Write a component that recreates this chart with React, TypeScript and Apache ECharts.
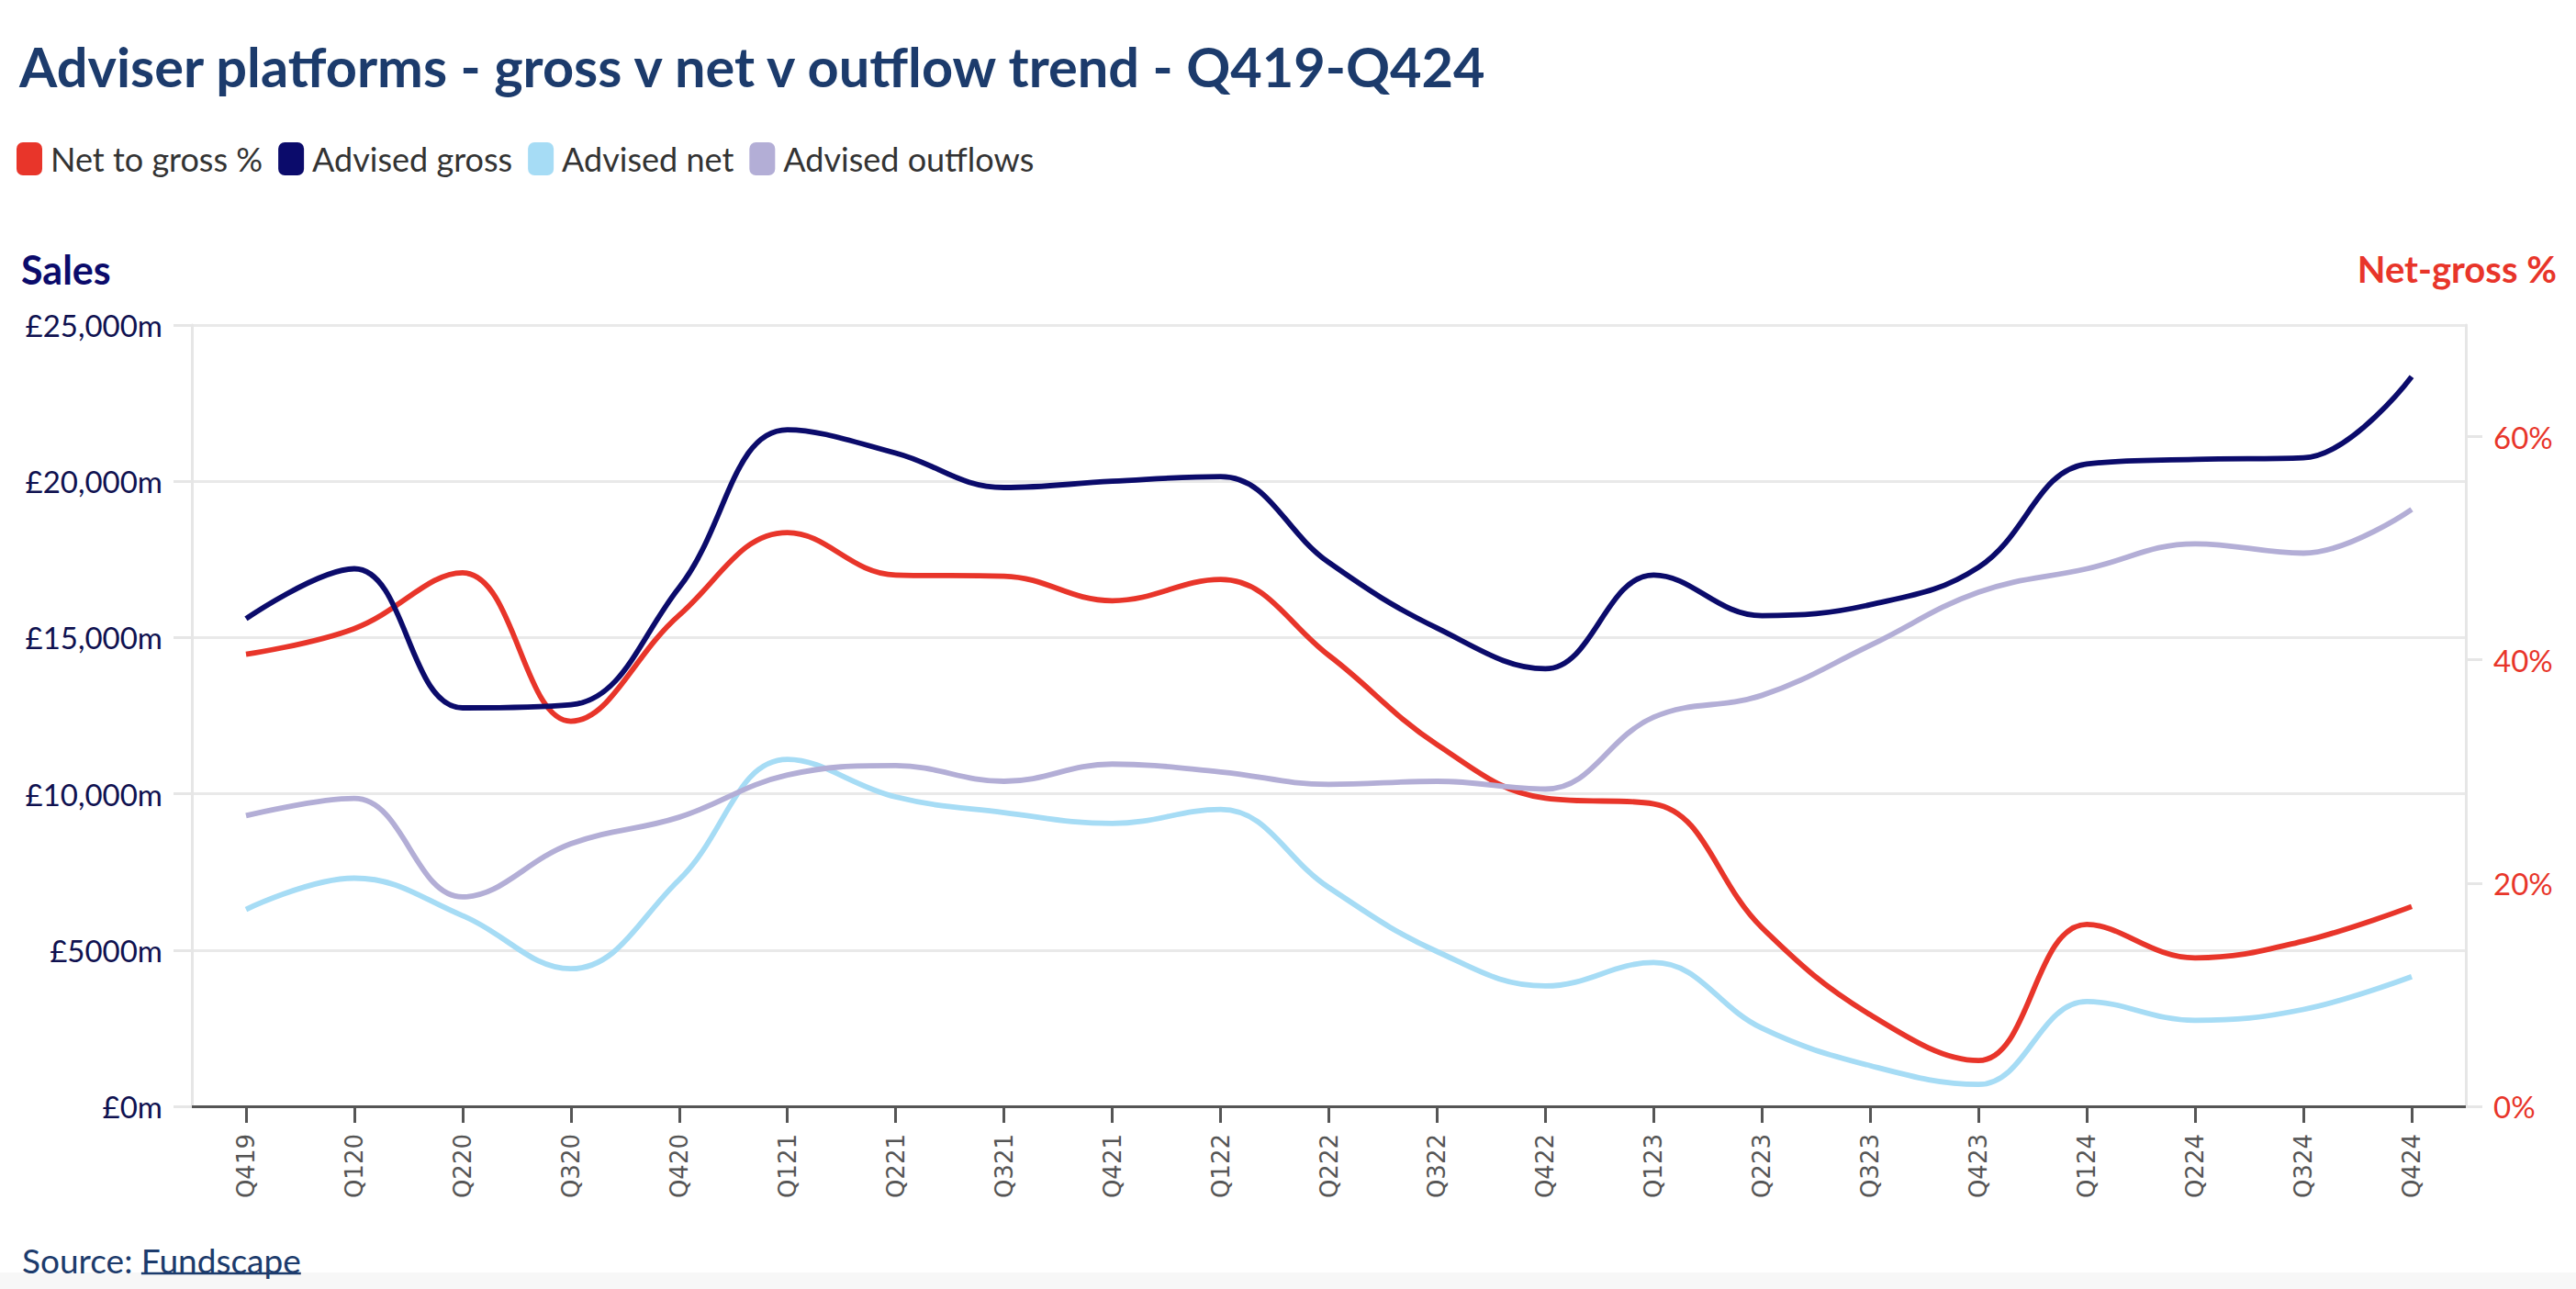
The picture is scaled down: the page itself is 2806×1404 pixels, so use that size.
import React, { useEffect, useRef } from "react";
import * as echarts from "echarts";

const categories = ["Q419","Q120","Q220","Q320","Q420","Q121","Q221","Q321","Q421","Q122","Q222","Q322","Q422","Q123","Q223","Q323","Q423","Q124","Q224","Q324","Q424"];
const netToGross = [40.5,42.8,47.8,34.5,44.0,51.4,47.6,47.5,45.3,47.2,40.4,32.4,27.6,27.1,16.0,8.2,4.1,16.3,13.3,14.8,17.9];
const advisedGross = [15600,17200,12750,12850,16600,21650,20900,19800,20000,20150,17400,15300,14000,17000,15700,16050,17250,20550,20700,20750,23350];
const advisedNet = [6300,7300,6100,4400,7250,11100,9900,9400,9050,9500,7000,4950,3850,4600,2500,1300,700,3350,2750,3100,4150];
const advisedOutflows = [9300,9850,6700,8400,9250,10600,10900,10400,10950,10700,10300,10400,10150,12450,13150,14750,16450,17200,18000,17700,19100];
const salesTicks = [0, 5000, 10000, 15000, 20000, 25000];
const pctTicks = [0, 20, 40, 60];

const titleText = "Adviser platforms - gross v net v outflow trend - Q419-Q424";
const sourceLabel = "Source: ";
const sourceLink = "Fundscape";

const RED = "#e8352a";
const NAVY = "#0b0b6b";
const LIGHTBLUE = "#a6dcf5";
const LAVENDER = "#b3aed6";
const TITLE = "#1c3b6c";
const FONT = "Lato, 'Noto Sans', sans-serif";

function fmtSales(v: number) {
  if (v >= 10000) return "£" + v.toLocaleString("en-GB") + "m";
  return "£" + v + "m";
}

export default function App() {
  const ref = useRef<HTMLDivElement>(null);
  useEffect(() => {
    document.body.style.margin = "0";
    document.body.style.overflow = "hidden";
    const el = ref.current!;
    const chart = echarts.init(el, undefined, { renderer: "svg" });

    const srcSize = 37;
    const ctx = document.createElement("canvas").getContext("2d")!;
    ctx.font = `${srcSize}px Lato`;
    const srcW = ctx.measureText(sourceLabel).width;
    const linkW = ctx.measureText(sourceLink).width;
    const srcX = 24;
    const srcY = 1372;

    const lineSeries = (name: string, data: number[], color: string, yAxisIndex: number) => ({
      name,
      type: "line",
      data,
      yAxisIndex,
      smooth: 0.4,
      symbol: "none",
      showSymbol: false,
      lineStyle: { color, width: 5.8 },
      itemStyle: { color },
    });

    chart.setOption({
      animation: false,
      backgroundColor: "#ffffff",
      legend: {
        left: 13,
        top: 150,
        icon: "roundRect",
        itemWidth: 28,
        itemHeight: 36,
        itemGap: 17,
        textStyle: { fontFamily: FONT, fontSize: 36, color: "#333333", padding: [0, 0, 0, 4] },
        data: ["Net to gross %", "Advised gross", "Advised net", "Advised outflows"],
      },
      grid: { left: 209, right: 120, top: 354, bottom: 199, containLabel: false },
      xAxis: {
        type: "category",
        data: categories,
        boundaryGap: true,
        axisLine: { show: true, lineStyle: { color: "#555555", width: 3 } },
        axisTick: { show: true, alignWithLabel: true, length: 18, lineStyle: { color: "#555555", width: 3 } },
        axisLabel: {
          rotate: 90,
          margin: 30,
          interval: 0,
          fontFamily: "'DejaVu Sans', sans-serif",
          fontSize: 26,
          color: "#555555",
        },
        splitLine: { show: false },
      },
      yAxis: [
        {
          type: "value",
          min: 0,
          max: 25000,
          interval: 5000,
          position: "left",
          axisLine: { show: true, lineStyle: { color: "#e6e6e6", width: 3 } },
          axisTick: { show: true, length: 20, lineStyle: { color: "#e6e6e6", width: 3 } },
          axisLabel: {
            margin: 32,
            fontFamily: FONT,
            fontSize: 33,
            color: "#0f1150",
            customValues: salesTicks,
            formatter: (v: number) => fmtSales(v),
          },
          splitLine: { show: true, lineStyle: { color: "#e9e9e9", width: 3 } },
        },
        {
          type: "value",
          min: 0,
          max: 70,
          interval: 10,
          position: "right",
          axisLine: { show: true, lineStyle: { color: "#e6e6e6", width: 3 } },
          axisTick: { show: true, length: 18, customValues: pctTicks, lineStyle: { color: "#e6e6e6", width: 3 } },
          axisLabel: {
            margin: 30,
            fontFamily: FONT,
            fontSize: 33,
            color: RED,
            customValues: pctTicks,
            formatter: (v: number) => v + "%",
          },
          splitLine: { show: false },
        },
      ],
      series: [
        lineSeries("Net to gross %", netToGross, RED, 1),
        lineSeries("Advised gross", advisedGross, NAVY, 0),
        lineSeries("Advised net", advisedNet, LIGHTBLUE, 0),
        lineSeries("Advised outflows", advisedOutflows, LAVENDER, 0),
      ],
      graphic: [
        {
          type: "rect",
          shape: { x: 0, y: 1386, width: 2806, height: 18 },
          style: { fill: "#f7f7f7" },
          z: -1,
        },
        {
          type: "text",
          x: 21,
          y: 72,
          style: {
            text: titleText,
            fontFamily: FONT,
            fontWeight: "bold",
            fontSize: 59.5,
            fill: TITLE,
            textVerticalAlign: "middle",
          },
        },
        {
          type: "text",
          x: 23,
          y: 293,
          style: {
            text: "Sales",
            fontFamily: FONT,
            fontWeight: "bold",
            fontSize: 43,
            fill: NAVY,
            textVerticalAlign: "middle",
          },
        },
        {
          type: "text",
          x: 2785,
          y: 293,
          style: {
            text: "Net-gross %",
            fontFamily: FONT,
            fontWeight: "bold",
            fontSize: 40,
            fill: RED,
            textAlign: "right",
            textVerticalAlign: "middle",
          },
        },
        {
          type: "text",
          x: srcX,
          y: srcY,
          style: {
            text: sourceLabel,
            fontFamily: FONT,
            fontSize: srcSize,
            fill: TITLE,
            textVerticalAlign: "middle",
          },
        },
        {
          type: "text",
          x: srcX + srcW,
          y: srcY,
          style: {
            text: sourceLink,
            fontFamily: FONT,
            fontSize: srcSize,
            fill: TITLE,
            textVerticalAlign: "middle",
          },
        },
        {
          type: "line",
          shape: { x1: srcX + srcW, y1: srcY + 15, x2: srcX + srcW + linkW, y2: srcY + 15 },
          style: { stroke: TITLE, lineWidth: 2.5 },
        },
      ],
    });

    return () => chart.dispose();
  }, []);
  return <div ref={ref} style={{ width: 2806, height: 1404 }} />;
}
